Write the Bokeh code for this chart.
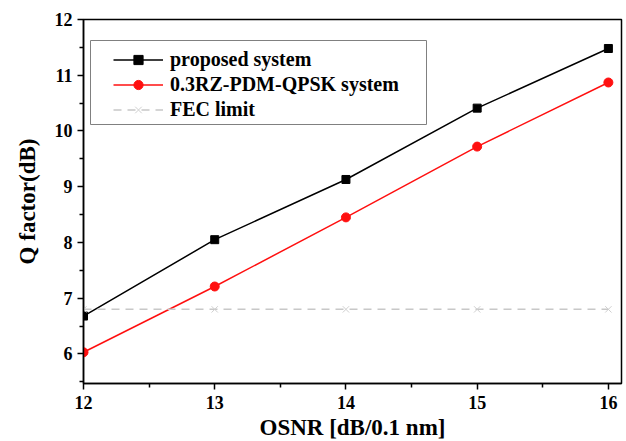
from bokeh.plotting import figure
from bokeh.models import Range1d, FixedTicker, Legend, BoxAnnotation
from bokeh.embed import file_html
from bokeh.resources import INLINE

osnr = [12, 13, 14, 15, 16]
proposed = [6.68, 8.05, 9.13, 10.41, 11.48]
rz_pdm_qpsk = [6.03, 7.21, 8.45, 9.72, 10.87]
fec_limit = [6.8, 6.8, 6.8, 6.8, 6.8]
x_ticks = [12, 13, 14, 15, 16]
y_ticks = [6, 7, 8, 9, 10, 11, 12]

FONT = "Liberation Serif"

p = figure(frame_width=538, frame_height=364, output_backend="svg", toolbar_location=None,
           x_range=Range1d(12, 16.1), y_range=Range1d(5.47, 12.0),
           min_border_left=83, min_border_right=5, min_border_top=19, min_border_bottom=56)
p.xgrid.visible = False
p.ygrid.visible = False
p.outline_line_color = "black"
p.outline_line_width = 1.5

r1l = p.line(osnr, proposed, line_color="black", line_width=1.5)
r1s = p.scatter(osnr, proposed, marker="square", size=8, fill_color="black", line_color="black")
r2l = p.line(osnr, rz_pdm_qpsk, line_color="#ff1010", line_width=1.5)
r2s = p.scatter(osnr, rz_pdm_qpsk, marker="circle", size=9, fill_color="#ff1010", line_color="#ff1010")
r3l = p.line(osnr, fec_limit, line_color="#c8c8c8", line_width=1.5, line_dash="8 6")
r3s = p.scatter(osnr, fec_limit, marker="x", size=9, line_color="#d0d0d0", line_width=1)

# legend frame (canvas layout)
box = BoxAnnotation(left=90, right=426, top=40, bottom=124,
                    left_units="canvas", right_units="canvas",
                    top_units="canvas", bottom_units="canvas",
                    fill_alpha=0, line_color="#808080", line_width=1, line_alpha=1)
p.add_layout(box)

legend = Legend(items=[("proposed system", [r1l, r1s]),
                       ("0.3RZ-PDM-QPSK system", [r2l, r2s]),
                       ("FEC limit", [r3l, r3s])],
                location=(22, 254))
legend.label_text_font = FONT
legend.label_text_font_style = "bold"
legend.label_text_font_size = "20px"
legend.label_text_color = "black"
legend.glyph_width = 50
legend.glyph_height = 23
legend.label_standoff = 7
legend.spacing = 2
legend.padding = 8
legend.margin = 0
legend.label_height = 23
legend.border_line_alpha = 0
legend.background_fill_alpha = 0
p.add_layout(legend, "center")

for ax in (p.xaxis[0], p.yaxis[0]):
    ax.major_label_text_font = FONT
    ax.major_label_text_font_style = "bold"
    ax.major_label_text_font_size = "18px"
    ax.major_label_text_color = "black"
    ax.axis_label_text_font = FONT
    ax.axis_label_text_font_style = "bold"
    ax.axis_label_text_font_size = "23px"
    ax.axis_label_text_color = "black"
    ax.axis_line_width = 1.5
    ax.major_tick_line_width = 1.5
    ax.minor_tick_line_width = 1.5
    ax.major_tick_in = 0
    ax.major_tick_out = 6
    ax.minor_tick_in = 0
    ax.minor_tick_out = 4

p.xaxis[0].ticker = FixedTicker(ticks=x_ticks, minor_ticks=[12.5, 13.5, 14.5, 15.5])
p.yaxis[0].ticker = FixedTicker(ticks=y_ticks, minor_ticks=[5.5, 6.5, 7.5, 8.5, 9.5, 10.5, 11.5])
p.xaxis[0].axis_label = "OSNR [dB/0.1 nm]"
p.yaxis[0].axis_label = "Q factor(dB)"
p.xaxis[0].major_label_standoff = 6
p.yaxis[0].major_label_standoff = 5
p.xaxis[0].axis_label_standoff = 3
p.yaxis[0].axis_label_standoff = 12

open("out.html", "w").write(file_html(p, INLINE))
